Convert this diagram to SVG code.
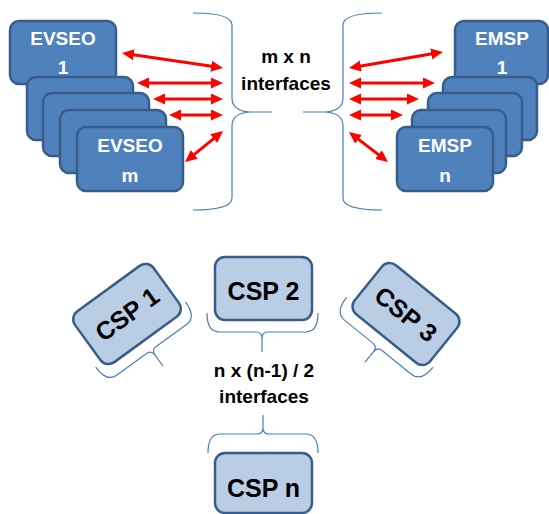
<svg xmlns="http://www.w3.org/2000/svg" xmlns:xlink="http://www.w3.org/1999/xlink" width="549" height="514" viewBox="0 0 549 514">
<style>
.dk{fill:#4f81bd;stroke:#385d8a;stroke-width:2.5}
.lt{fill:#b9cde5;stroke:#385d8a;stroke-width:2.5}
.wt{fill:#ffffff;font-family:"Liberation Sans",Arial,sans-serif;font-weight:bold;font-size:19px;text-anchor:middle}
.bt{fill:#000000;font-family:"Liberation Sans",Arial,sans-serif;font-weight:bold;font-size:19px;text-anchor:middle}
.ct{fill:#000000;font-family:"Liberation Sans",Arial,sans-serif;font-weight:bold;font-size:25px;text-anchor:middle}
.br{fill:none;stroke:#4a7ebb;stroke-width:1.2}
.ar{stroke:#ff0000;stroke-width:3;fill:none;marker-start:url(#ah);marker-end:url(#ah)}
</style>
<defs>
<marker id="ah" markerUnits="userSpaceOnUse" markerWidth="13" markerHeight="12" refX="4" refY="5.5" orient="auto-start-reverse">
<path d="M0,0 L12,5.5 L0,11 z" fill="#ff0000"/>
</marker>
<path id="cspbr" class="br" d="M-56.5,24.5 Q-56.5,43.5 -44,43.5 H-7 Q-1.5,43.5 -1.5,50 V63.5 M54.5,24.5 Q54.5,43.5 42,43.5 H4 Q-1.5,43.5 -1.5,50"/>
</defs>
<g id="braces">
<path class="br" d="M193,13 Q232,13 232,25 V98 Q232,111 250,112 H272 M250,112 Q232,113 232,126 V198 Q232,210 193,210"/>
<path class="br" d="M382,13 Q343,13 343,25 V98 Q343,111 325,112 H303 M325,112 Q343,113 343,126 V198 Q343,210 382,210"/>
</g>
<g id="evseo-stack">
<g id="evseo1"><rect class="dk" x="10" y="21" width="106" height="63" rx="9"/><text class="wt" x="63" y="45">EVSEO</text><text class="wt" x="63" y="74">1</text></g>
<g id="evseo2"><rect class="dk" x="27" y="77" width="106" height="63" rx="9"/></g>
<g id="evseo3"><rect class="dk" x="43" y="93" width="106" height="63" rx="9"/></g>
<g id="evseo4"><rect class="dk" x="60" y="110" width="106" height="63" rx="9"/></g>
<g id="evseom"><rect class="dk" x="77" y="127" width="106" height="64" rx="9"/><text class="wt" x="130" y="152">EVSEO</text><text class="wt" x="130" y="182">m</text></g>
</g>
<g id="emsp-stack">
<g id="emsp1"><rect class="dk" x="455" y="21" width="93" height="63" rx="9"/><text class="wt" x="502" y="45">EMSP</text><text class="wt" x="502" y="74">1</text></g>
<g id="emsp2"><rect class="dk" x="443" y="77" width="94" height="63" rx="9"/></g>
<g id="emsp3"><rect class="dk" x="428" y="93" width="94" height="63" rx="9"/></g>
<g id="emsp4"><rect class="dk" x="412" y="110" width="94" height="63" rx="9"/></g>
<g id="emspn"><rect class="dk" x="397" y="127" width="96" height="64" rx="9"/><text class="wt" x="445" y="152">EMSP</text><text class="wt" x="445" y="182">n</text></g>
</g>
<g id="connectors">
<line class="ar" x1="129.9" y1="54.2" x2="215.1" y2="66.8"/>
<line class="ar" x1="145" y1="83" x2="215" y2="83"/>
<line class="ar" x1="161" y1="99" x2="215" y2="99"/>
<line class="ar" x1="177" y1="115" x2="215" y2="115"/>
<line class="ar" x1="216.8" y1="136.1" x2="191.2" y2="156.9"/>
<line class="ar" x1="356.9" y1="66.7" x2="435.1" y2="53.3"/>
<line class="ar" x1="357" y1="83" x2="427" y2="83"/>
<line class="ar" x1="357" y1="99" x2="411" y2="99"/>
<line class="ar" x1="357" y1="115" x2="395" y2="115"/>
<line class="ar" x1="355.3" y1="136.9" x2="381.7" y2="157.1"/>
</g>
<g id="label-mxn"><text class="bt" x="286" y="63">m x n</text><text class="bt" x="286" y="90">interfaces</text></g>
<g id="csp1" transform="translate(127,314) rotate(-36)"><rect class="lt" x="-48.5" y="-31.5" width="97" height="63" rx="10"/><use xlink:href="#cspbr"/><text class="ct" x="0" y="9">CSP 1</text></g>
<g id="csp2" transform="translate(263.5,288.5)"><rect class="lt" x="-48.5" y="-31.5" width="97" height="63" rx="10"/><use xlink:href="#cspbr"/><text class="ct" x="0" y="11">CSP 2</text></g>
<g id="csp3" transform="translate(406,314) rotate(39)"><rect class="lt" x="-48.5" y="-31.5" width="97" height="63" rx="10"/><use xlink:href="#cspbr"/><text class="ct" x="0" y="9">CSP 3</text></g>
<g id="cspn"><path class="br" d="M208,453 Q208,434 220,434 H257 Q263,434 263,428 V415 M318,453 Q318,434 306,434 H269 Q263,434 263,428"/><rect class="lt" x="215" y="453" width="97" height="60" rx="10"/><text class="ct" x="263.5" y="497">CSP n</text></g>
<g id="label-csp"><text class="bt" x="264" y="377">n x (n-1) / 2</text><text class="bt" x="264" y="403">interfaces</text></g>
</svg>
